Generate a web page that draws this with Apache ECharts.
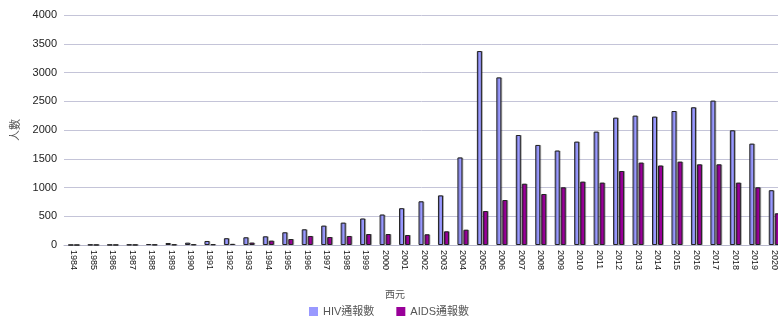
<!DOCTYPE html>
<html>
<head>
<meta charset="utf-8">
<script src="https://cdn.jsdelivr.net/npm/echarts@6/dist/echarts.min.js"></script>
<style>
  html, body { margin: 0; padding: 0; background: #fff; }
  #hivChart { width: 778px; height: 318px; }
</style>
</head>
<body>
<div id="hivChart"></div>
<script>
var years = ['1984', '1985', '1986', '1987', '1988', '1989', '1990', '1991', '1992', '1993',
  '1994', '1995', '1996', '1997', '1998', '1999', '2000', '2001', '2002', '2003',
  '2004', '2005', '2006', '2007', '2008', '2009', '2010', '2011', '2012', '2013',
  '2014', '2015', '2016', '2017', '2018', '2019', '2020'];

// HIV 通報數
var hivCounts = [1, 5, 4, 6, 15, 35, 40, 70, 118, 134,
  151, 221, 273, 337, 389, 461, 530, 640, 760, 863,
  1523, 3373, 2915, 1913, 1740, 1643, 1798, 1972, 2215, 2250,
  2233, 2330, 2395, 2511, 1995, 1763, 953];

// AIDS 通報數
var aidsCounts = [0, 2, 2, 3, 6, 8, 10, 12, 20, 42,
  76, 104, 157, 139, 157, 191, 191, 174, 186, 238,
  266, 591, 782, 1066, 887, 1003, 1102, 1085, 1287, 1433,
  1383, 1450, 1403, 1403, 1085, 1003, 551];

var yTicks = { min: 0, max: 4000, interval: 500 };

var chartDom = document.getElementById('hivChart');
var myChart = echarts.init(chartDom);
var option;

var barStyle = function (color) {
  return {
    color: color,
    borderColor: '#222',
    borderWidth: 1,
    shadowColor: 'rgba(0,0,0,0.25)',
    shadowOffsetX: 1,
    shadowOffsetY: 0
  };
};

option = {
  animation: false,
  backgroundColor: '#fff',
  textStyle: { fontFamily: 'Liberation Sans, Arial, "Noto Sans CJK TC", sans-serif' },
  grid: {
    left: 64,
    right: -6,
    top: 15,
    bottom: 73,
    outerBoundsMode: 'none'
  },
  legend: {
    data: ['HIV通報數', 'AIDS通報數'],
    bottom: -4,
    left: 'center',
    icon: 'rect',
    itemWidth: 9,
    itemHeight: 9,
    itemGap: 22,
    itemStyle: { borderWidth: 0, shadowColor: 'transparent' },
    textStyle: { fontSize: 11, color: '#555' }
  },
  xAxis: {
    type: 'category',
    data: years,
    name: '西元',
    nameLocation: 'middle',
    nameGap: 45,
    nameMoveOverlap: false,
    nameTextStyle: { fontSize: 10, color: '#555', padding: [0, 58, 0, 0] },
    axisTick: { show: false },
    axisLine: { lineStyle: { color: '#b8b8cc' } },
    axisLabel: { rotate: -90, interval: 0, fontSize: 9, color: '#111', margin: 5 }
  },
  yAxis: {
    type: 'value',
    min: yTicks.min,
    max: yTicks.max,
    interval: yTicks.interval,
    name: '人數',
    nameLocation: 'middle',
    nameRotate: 90,
    nameGap: 40,
    nameTextStyle: { fontSize: 11, color: '#555' },
    axisLine: { show: false },
    axisTick: { show: false },
    axisLabel: {
      fontSize: 11,
      color: '#222',
      margin: 7,
      formatter: function (v) { return String(v); }
    },
    splitLine: { lineStyle: { color: '#c4c4d8', width: 1 } }
  },
  series: [
    {
      name: 'HIV通報數',
      type: 'bar',
      data: hivCounts,
      barWidth: 5,
      barGap: '20%',
      itemStyle: barStyle('#9999ff')
    },
    {
      name: 'AIDS通報數',
      type: 'bar',
      data: aidsCounts,
      barWidth: 5,
      barGap: '20%',
      itemStyle: barStyle('#990099')
    }
  ]
};

option && myChart.setOption(option);
</script>
</body>
</html>
